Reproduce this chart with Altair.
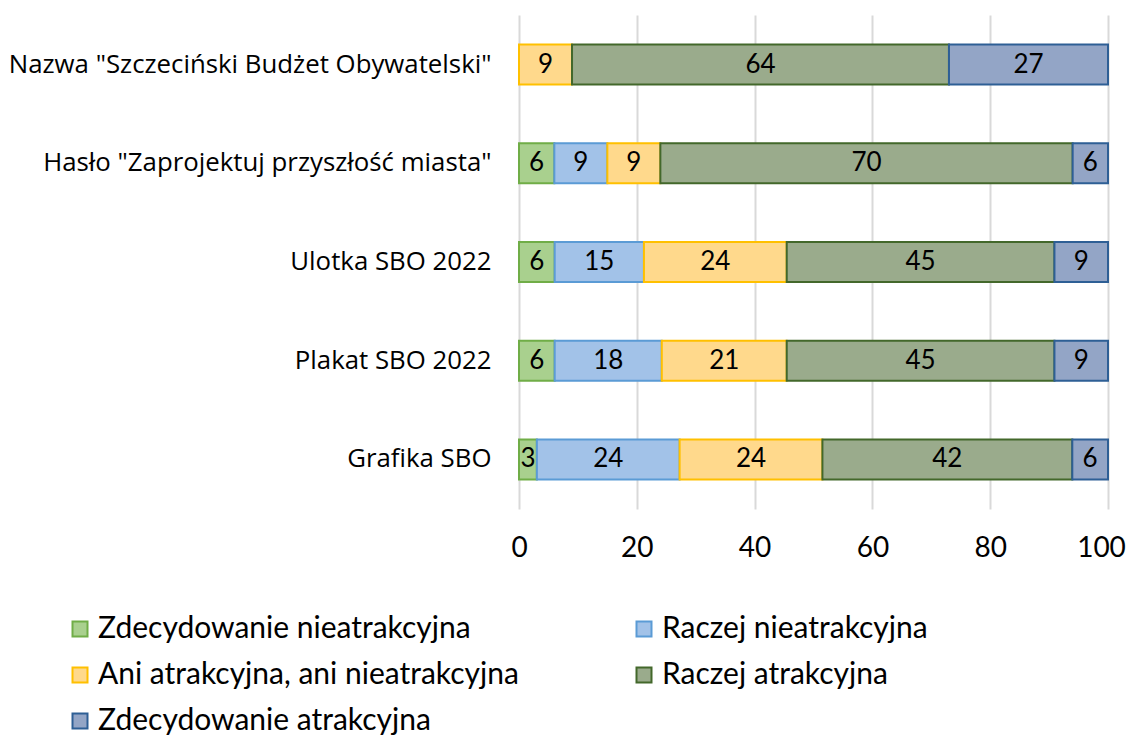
import altair as alt
import pandas as pd

items = [
    'Nazwa "Szczeciński Budżet Obywatelski"',
    'Hasło "Zaprojektuj przyszłość miasta"',
    'Ulotka SBO 2022',
    'Plakat SBO 2022',
    'Grafika SBO',
]
categories = [
    'Zdecydowanie nieatrakcyjna',
    'Raczej nieatrakcyjna',
    'Ani atrakcyjna, ani nieatrakcyjna',
    'Raczej atrakcyjna',
    'Zdecydowanie atrakcyjna',
]
v_zdec_nie = [0, 6, 6, 6, 3]
v_racz_nie = [0, 9, 15, 18, 24]
v_ani = [9, 9, 24, 21, 24]
v_racz_atr = [64, 70, 45, 45, 42]
v_zdec_atr = [27, 6, 9, 9, 6]

fills = ['#a9d08e', '#a2c2e8', '#ffd98c', '#9aab8c', '#93a5c6']
strokes = ['#70ad47', '#5b9bd5', '#ffc000', '#43682b', '#2e5f95']

series = [v_zdec_nie, v_racz_nie, v_ani, v_racz_atr, v_zdec_atr]
rows = []
for ci, (cat, vals) in enumerate(zip(categories, series)):
    for it, v in zip(items, vals):
        rows.append({"item": it, "category": cat, "order": ci, "value": v})
df = pd.DataFrame(rows)

base = (
    alt.Chart(df)
    .transform_filter("datum.value > 0")
    .transform_joinaggregate(total="sum(value)", groupby=["item"])
    .transform_calculate(pct="datum.value / datum.total * 100")
    .transform_stack(stack="pct", groupby=["item"], sort=[alt.SortField("order")], as_=["x0", "x1"])
    .transform_calculate(mid="(datum.x0 + datum.x1) / 2")
)

yenc = alt.Y(
    "item:N",
    sort=items,
    title=None,
    scale=alt.Scale(paddingInner=0.595, paddingOuter=0.3),
    axis=alt.Axis(
        domain=False, ticks=False, grid=False,
        labelFont="Open Sans", labelFontSize=25.8, labelColor="#000000",
        labelPadding=28, labelLimit=700,
    ),
)

bars = base.mark_bar(strokeWidth=2).encode(
    y=yenc,
    x=alt.X(
        "x0:Q",
        title=None,
        scale=alt.Scale(domain=[0, 100]),
        axis=alt.Axis(
            values=[0, 20, 40, 60, 80, 100], domain=False, ticks=False,
            grid=True, gridColor="#d9d9d9", gridWidth=2,
            labelFont="Lato", labelFontSize=28, labelColor="#000000",
            labelPadding=25, labelFlush=False,
            labelOffset=alt.condition("datum.value == 100", alt.value(-7), alt.value(0)),
        ),
    ),
    x2="x1:Q",
    color=alt.Color(
        "category:N",
        title=None,
        sort=categories,
        scale=alt.Scale(domain=categories, range=fills),
        legend=alt.Legend(
            orient="none", legendX=-454, legendY=599, columns=2,
            direction="horizontal",
            symbolType="square", symbolSize=225, symbolStrokeWidth=2,
            labelFont="Lato", labelFontSize=30, labelColor="#000000",
            labelLimit=700, labelOffset=3, rowPadding=16, columnPadding=110,
            title=None,
        ),
    ),
    stroke=alt.Stroke(
        "category:N",
        title=None,
        sort=categories,
        scale=alt.Scale(domain=categories, range=strokes),
    ),
    order=alt.Order("order:Q"),
)

labels = base.mark_text(font="Lato", fontSize=26, color="#000000", baseline="middle").encode(
    y=alt.Y("item:N", sort=items),
    x=alt.X("mid:Q"),
    text=alt.Text("value:Q"),
)

chart = (
    alt.layer(bars, labels)
    .properties(
        width=589,
        height=494,
        autosize=alt.AutoSizeParams(type="none"),
        padding={"left": 511, "top": 7, "right": 19, "bottom": 226},
    )
    .configure_view(stroke=None)
)

chart.save("out.html", embed_options={"renderer": "svg", "actions": False})
